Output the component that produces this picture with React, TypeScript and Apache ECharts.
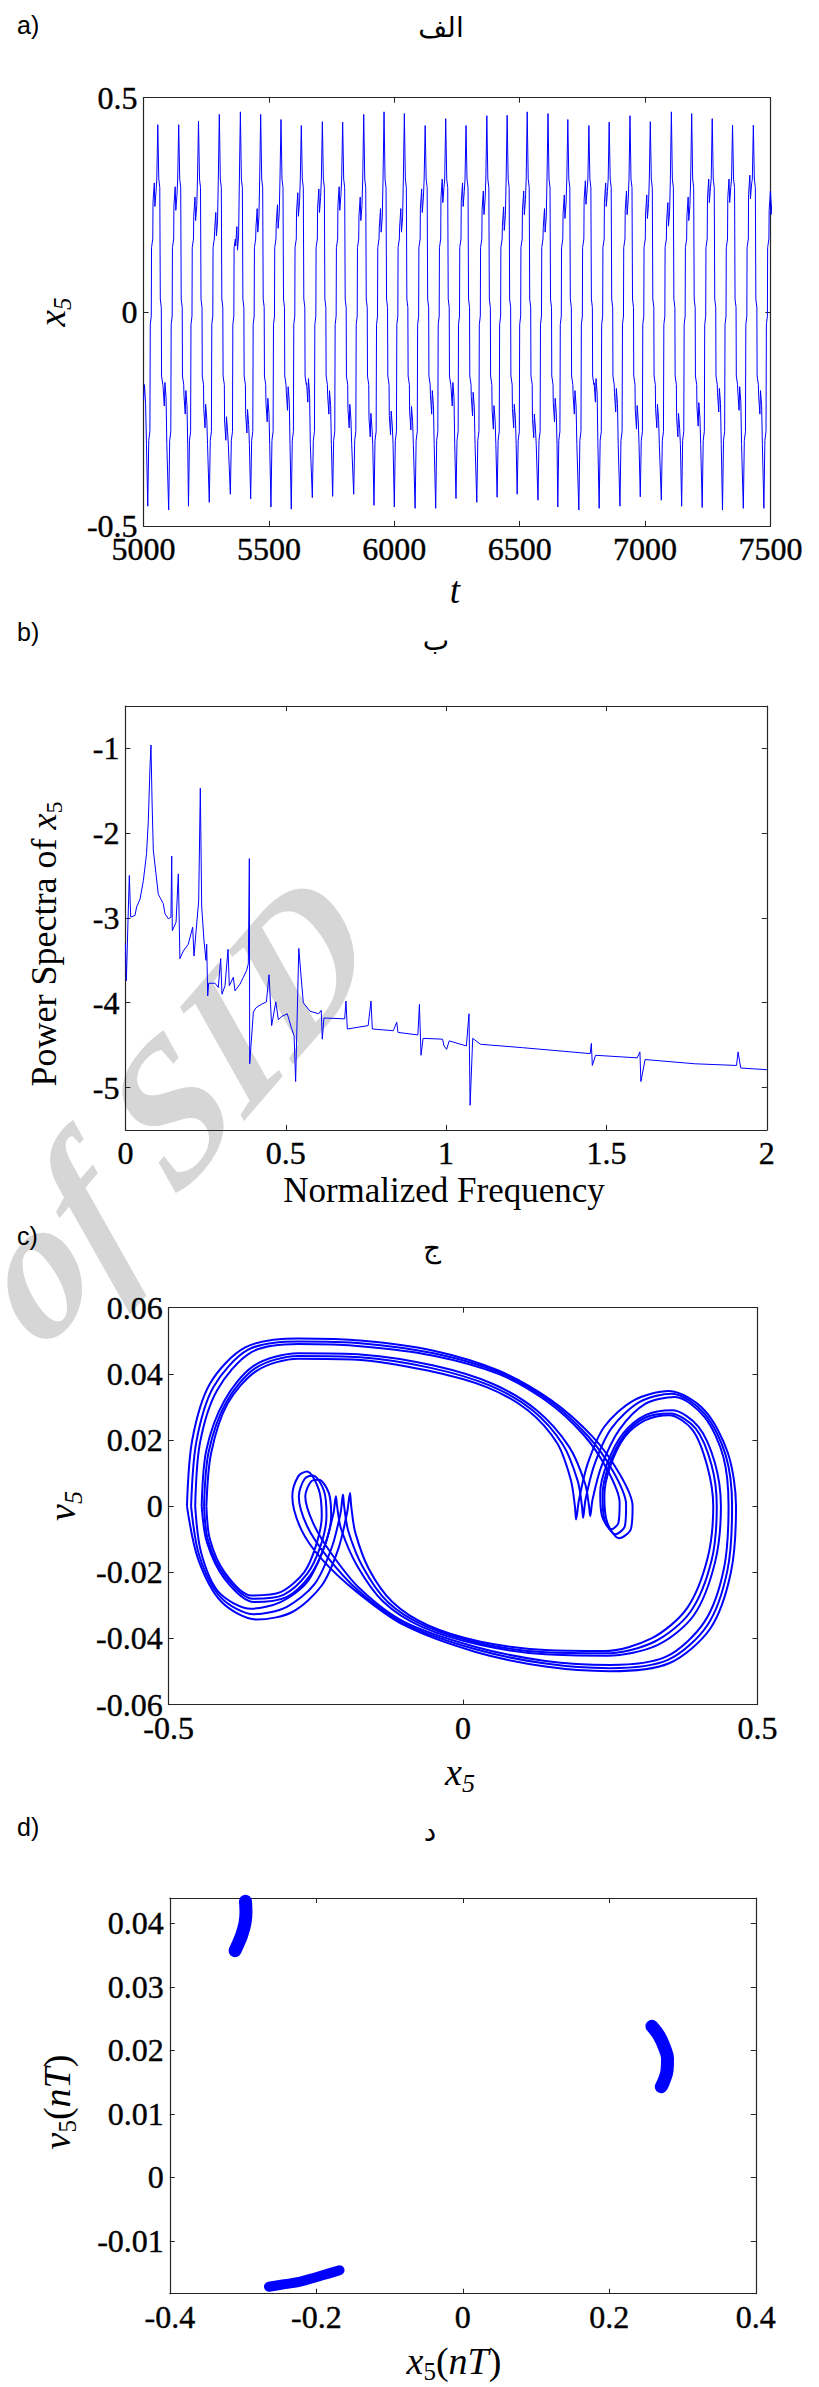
import React, { useEffect, useRef } from "react";
import * as echarts from "echarts";

const SERIF = '"Liberation Serif", serif';
const BLUE = "#0000ff";
const AX_COLOR = "#262626";

// ---------------- Panel a: x5(t) time series (per-cycle readings) ----------------
const peakTimes = [5058.6, 5142, 5221, 5304, 5388, 5469, 5550, 5631, 5715, 5796, 5880, 5961, 6042, 6125, 6207, 6288, 6371, 6452, 6532, 6615, 6694, 6778, 6859, 6942, 7023, 7107, 7188, 7270, 7351, 7434, 7516];
const peakValues = [0.437, 0.437, 0.445, 0.461, 0.467, 0.461, 0.449, 0.435, 0.444, 0.443, 0.461, 0.467, 0.463, 0.435, 0.451, 0.435, 0.458, 0.459, 0.467, 0.463, 0.449, 0.435, 0.443, 0.458, 0.444, 0.467, 0.463, 0.451, 0.436, 0.436, 0.44];
const troughValues = [-0.454, -0.463, -0.454, -0.445, -0.426, -0.437, -0.456, -0.461, -0.434, -0.431, -0.426, -0.452, -0.456, -0.459, -0.459, -0.436, -0.445, -0.433, -0.426, -0.44, -0.456, -0.463, -0.459, -0.454, -0.432, -0.44, -0.454, -0.457, -0.463, -0.459, -0.459];
const upperLevels = [0.276, 0.267, 0.243, 0.207, 0.174, 0.216, 0.225, 0.253, 0.262, 0.267, 0.243, 0.216, 0.216, 0.262, 0.285, 0.276, 0.257, 0.22, 0.257, 0.216, 0.248, 0.281, 0.276, 0.257, 0.248, 0.23, 0.243, 0.285, 0.285, 0.294, 0.257];
const lowerLevels = [-0.195, -0.214, -0.246, -0.275, -0.258, -0.232, -0.205, -0.186, -0.214, -0.246, -0.267, -0.262, -0.251, -0.214, -0.195, -0.218, -0.249, -0.246, -0.269, -0.232, -0.214, -0.186, -0.209, -0.249, -0.246, -0.267, -0.242, -0.209, -0.205, -0.214, -0.21];
const leadIn: [number, number][] = [[5000, -0.205], [5003.5, -0.17], [5008, -0.215], [5011.5, -0.31]];
// staircase shape of one oscillation: [time offset from peak, reference level, offset]
const riseShape: [number, string, number][] = [
  [-42, "Q", 0], [-38, "0", -0.3], [-33.5, "0", -0.28], [-32, "0", -0.03], [-28, "0", -0.01],
  [-27, "0", 0.15], [-22, "0", 0.17], [-21, "U", -0.02], [-16, "U", 0.025], [-13.5, "U", -0.03],
  [-9, "U", 0.005], [-6, "0", 0.31], [-2, "P", 0],
];
const fallShape: [number, string, number][] = [
  [2, "0", 0.31], [6, "0", 0.29], [8, "0", 0.03], [12, "0", 0.01], [13, "0", -0.15], [18, "0", -0.17],
  [19, "L", 0.02], [24, "L", -0.025], [26.5, "L", 0.03], [31, "L", -0.005], [34, "0", -0.31],
];

// ---------------- Panel b: power spectrum ----------------
const specFreq = [0, 0.003, 0.008, 0.0122, 0.0165, 0.03, 0.035, 0.0455, 0.056, 0.066, 0.0715, 0.0767, 0.0798, 0.083, 0.087, 0.0954, 0.1026, 0.108, 0.118, 0.1235, 0.134, 0.142, 0.1444, 0.1463, 0.158, 0.165, 0.17, 0.1806, 0.196, 0.2098, 0.2139, 0.2223, 0.2285, 0.2336, 0.2379, 0.2451, 0.2513, 0.2535, 0.2566, 0.2597, 0.2794, 0.2897, 0.2971, 0.3012, 0.3106, 0.32, 0.324, 0.3365, 0.3418, 0.3573, 0.3677, 0.378, 0.3833, 0.3865, 0.3876, 0.399, 0.407, 0.4234, 0.4397, 0.4478, 0.456, 0.469, 0.477, 0.4884, 0.5048, 0.518, 0.526, 0.5308, 0.5407, 0.5497, 0.5548, 0.5756, 0.6025, 0.6106, 0.614, 0.619, 0.6838, 0.6878, 0.692, 0.757, 0.7658, 0.77, 0.8354, 0.846, 0.85, 0.912, 0.9168, 0.9218, 0.9283, 0.989, 0.9935, 1.0016, 1.0097, 1.0633, 1.0714, 1.0749, 1.083, 1.1073, 1.2377, 1.4494, 1.4528, 1.456, 1.466, 1.5959, 1.6043, 1.6074, 1.6205, 1.7752, 1.9055, 1.9105, 1.9186, 2.0];
const specPower = [-3.3, -3.74, -3.05, -2.5, -2.99, -2.97, -2.87, -2.78, -2.56, -2.24, -1.85, -1.22, -0.96, -1.61, -2.2, -2.48, -2.72, -2.76, -2.83, -2.95, -3.01, -2.99, -2.27, -3.15, -3.05, -2.48, -3.48, -3.39, -3.31, -3.11, -3.45, -3.07, -2.8, -1.47, -2.87, -3.27, -3.5, -3.31, -3.92, -3.77, -3.77, -3.82, -3.48, -3.9, -3.8, -3.37, -3.8, -3.7, -3.86, -3.78, -3.7, -3.62, -3.54, -2.3, -4.72, -4.11, -4.06, -4.02, -3.99, -3.67, -4.27, -3.99, -4.2, -4.16, -4.13, -4.3, -4.39, -4.93, -3.36, -3.78, -4.0, -4.1, -4.13, -4.09, -4.43, -4.18, -4.19, -3.98, -4.31, -4.27, -3.98, -4.31, -4.33, -4.23, -4.35, -4.38, -4.02, -4.62, -4.42, -4.43, -4.51, -4.55, -4.45, -4.51, -4.13, -5.21, -4.42, -4.49, -4.53, -4.6, -4.48, -4.74, -4.62, -4.65, -4.58, -4.93, -4.67, -4.72, -4.74, -4.58, -4.77, -4.79];

// ---------------- Panel c: phase portrait (x5, v5) ----------------
const orbitA1: [number, number][] = [[-0.436, 0], [-0.428, 0.016], [-0.4, 0.031], [-0.35, 0.041], [-0.28, 0.0446], [-0.18, 0.0443], [-0.06, 0.041], [0.04, 0.036], [0.11, 0.029], [0.16, 0.019], [0.183, 0.008], [0.19, 0], [0.192, -0.004], [0.197, 0.002], [0.212, 0.013], [0.24, 0.024], [0.29, 0.032], [0.35, 0.0348], [0.41, 0.029], [0.45, 0.016], [0.4637, 0], [0.455, -0.02], [0.42, -0.037], [0.35, -0.0475], [0.25, -0.0499], [0.14, -0.0485], [0.02, -0.044], [-0.1, -0.036], [-0.18, -0.026], [-0.24, -0.016], [-0.275, -0.007], [-0.29, 0.003], [-0.28, 0.009], [-0.265, 0.0105], [-0.245, 0.005], [-0.24, -0.003], [-0.25, -0.012], [-0.27, -0.02], [-0.31, -0.026], [-0.36, -0.027], [-0.405, -0.02], [-0.43, -0.01], [-0.436, 0]];
const orbitB1: [number, number][] = [[-0.469, 0], [-0.46, 0.02], [-0.43, 0.037], [-0.37, 0.048], [-0.28, 0.0507], [-0.17, 0.05], [-0.05, 0.047], [0.06, 0.041], [0.15, 0.032], [0.22, 0.021], [0.265, 0.01], [0.288, 0], [0.285, -0.007], [0.265, -0.0097], [0.245, -0.005], [0.24, 0.003], [0.25, 0.012], [0.275, 0.021], [0.31, 0.026], [0.35, 0.0275], [0.39, 0.023], [0.415, 0.012], [0.425, 0], [0.415, -0.016], [0.38, -0.031], [0.32, -0.04], [0.24, -0.0438], [0.14, -0.0435], [0.03, -0.041], [-0.06, -0.036], [-0.12, -0.029], [-0.16, -0.019], [-0.183, -0.008], [-0.19, 0], [-0.192, 0.004], [-0.197, -0.002], [-0.212, -0.013], [-0.24, -0.024], [-0.29, -0.032], [-0.35, -0.0343], [-0.41, -0.029], [-0.45, -0.016], [-0.469, 0]];
const orbitA2: [number, number][] = [[-0.444, 0], [-0.436, 0.017], [-0.405, 0.032], [-0.355, 0.0425], [-0.28, 0.0462], [-0.17, 0.0458], [-0.05, 0.0425], [0.05, 0.037], [0.125, 0.029], [0.18, 0.018], [0.207, 0.007], [0.214, 0], [0.216, -0.003], [0.22, 0.002], [0.235, 0.012], [0.265, 0.023], [0.31, 0.031], [0.36, 0.033], [0.41, 0.027], [0.442, 0.015], [0.451, 0], [0.443, -0.019], [0.41, -0.035], [0.345, -0.0455], [0.25, -0.048], [0.14, -0.0468], [0.02, -0.0425], [-0.1, -0.035], [-0.175, -0.025], [-0.225, -0.014], [-0.255, -0.005], [-0.268, 0.003], [-0.258, 0.0075], [-0.245, 0.008], [-0.228, 0.004], [-0.224, -0.003], [-0.235, -0.012], [-0.26, -0.021], [-0.3, -0.0275], [-0.355, -0.029], [-0.405, -0.022], [-0.435, -0.011], [-0.444, 0]];
const orbitB2: [number, number][] = [[-0.455, 0], [-0.447, 0.019], [-0.418, 0.035], [-0.36, 0.0465], [-0.28, 0.049], [-0.17, 0.0483], [-0.05, 0.0455], [0.06, 0.04], [0.14, 0.032], [0.205, 0.0215], [0.245, 0.011], [0.266, 0.001], [0.264, -0.005], [0.252, -0.007], [0.236, -0.003], [0.233, 0.004], [0.245, 0.013], [0.272, 0.022], [0.31, 0.0275], [0.355, 0.029], [0.4, 0.024], [0.428, 0.013], [0.438, 0], [0.428, -0.017], [0.392, -0.033], [0.33, -0.042], [0.245, -0.0452], [0.14, -0.0448], [0.03, -0.042], [-0.07, -0.0365], [-0.135, -0.029], [-0.18, -0.018], [-0.207, -0.007], [-0.214, 0], [-0.216, 0.003], [-0.22, -0.002], [-0.235, -0.012], [-0.265, -0.023], [-0.31, -0.029], [-0.36, -0.031], [-0.415, -0.026], [-0.445, -0.014], [-0.455, 0]];
const orbitA3: [number, number][] = [[-0.44, 0], [-0.432, 0.0165], [-0.402, 0.0315], [-0.352, 0.0418], [-0.28, 0.0454], [-0.175, 0.045], [-0.055, 0.0418], [0.045, 0.0365], [0.118, 0.029], [0.17, 0.0185], [0.195, 0.0075], [0.202, 0], [0.204, -0.0035], [0.208, 0.002], [0.223, 0.0125], [0.252, 0.0235], [0.3, 0.0315], [0.355, 0.034], [0.41, 0.028], [0.446, 0.0155], [0.457, 0], [0.449, -0.0195], [0.415, -0.036], [0.348, -0.0465], [0.25, -0.049], [0.14, -0.0476], [0.02, -0.0432], [-0.1, -0.0355], [-0.178, -0.0255], [-0.232, -0.015], [-0.265, -0.006], [-0.279, 0.003], [-0.269, 0.0083], [-0.255, 0.0093], [-0.236, 0.0045], [-0.232, -0.003], [-0.242, -0.012], [-0.265, -0.0205], [-0.305, -0.0268], [-0.357, -0.028], [-0.405, -0.021], [-0.433, -0.0105], [-0.44, 0]];
const orbitB3: [number, number][] = [[-0.462, 0], [-0.453, 0.0195], [-0.424, 0.036], [-0.365, 0.0473], [-0.28, 0.0498], [-0.17, 0.0492], [-0.05, 0.0462], [0.06, 0.0405], [0.145, 0.032], [0.212, 0.0212], [0.255, 0.0105], [0.277, 0.0005], [0.275, -0.006], [0.259, -0.0085], [0.24, -0.004], [0.237, 0.0035], [0.248, 0.0125], [0.274, 0.0215], [0.31, 0.0268], [0.352, 0.028], [0.395, 0.0235], [0.422, 0.0125], [0.431, 0], [0.422, -0.0165], [0.386, -0.032], [0.325, -0.041], [0.243, -0.0445], [0.14, -0.0442], [0.03, -0.0415], [-0.065, -0.0362], [-0.128, -0.029], [-0.17, -0.0185], [-0.195, -0.0075], [-0.202, 0], [-0.204, 0.0035], [-0.208, -0.002], [-0.223, -0.0125], [-0.252, -0.0235], [-0.3, -0.0305], [-0.355, -0.0327], [-0.412, -0.0275], [-0.448, -0.015], [-0.462, 0]];

// ---------------- Panel d: Poincare section ----------------
const poincareArc1: [number, number][] = [[-0.311, 0.0357], [-0.3074, 0.0366], [-0.3017, 0.0382], [-0.2974, 0.04], [-0.296, 0.0418], [-0.2967, 0.0435]];
const poincareArc2: [number, number][] = [[0.2582, 0.0238], [0.2681, 0.0223], [0.2752, 0.0205], [0.2795, 0.0187], [0.2788, 0.0168], [0.2739, 0.015], [0.271, 0.0143]];
const poincareArc3: [number, number][] = [[-0.2646, -0.0172], [-0.2431, -0.0168], [-0.2218, -0.0164], [-0.2004, -0.0157], [-0.1825, -0.0151], [-0.1683, -0.0146]];

// tick values
const ticksB = [-5, -4, -3, -2, -1];
const ticksD = [-0.01, 0, 0.01, 0.02, 0.03, 0.04];

function buildX5(): [number, number][] {
  const out: [number, number][] = leadIn.slice();
  for (let i = 0; i < peakTimes.length; i++) {
    const p = peakTimes[i];
    const lv: Record<string, number> = { Q: troughValues[i], U: upperLevels[i], P: peakValues[i], L: lowerLevels[i], "0": 0 };
    for (const [dt, ref, d] of riseShape) out.push([p + dt, lv[ref] + d]);
    for (const [dt, ref, d] of fallShape) out.push([p + dt, lv[ref] + d]);
  }
  return out;
}

let measureCtx: CanvasRenderingContext2D | null = null;
function textWidth(t: string, font: string) {
  if (!measureCtx) measureCtx = document.createElement("canvas").getContext("2d");
  if (!measureCtx) return t.length * 12;
  measureCtx.font = font;
  return measureCtx.measureText(t).width;
}
type Part = { t: string; font: string; dy?: number };
function mathLabel(parts: Part[], x: number, y: number, rotation = 0): any {
  const widths = parts.map((p) => textWidth(p.t, p.font));
  const total = widths.reduce((a, b) => a + b, 0);
  let cx = -total / 2;
  const children = parts.map((p, i) => {
    const el = {
      type: "text", x: cx, y: p.dy || 0,
      style: { text: p.t, font: p.font, fill: "#000", align: "left", verticalAlign: "middle", textAlign: "left", textVerticalAlign: "middle" },
    };
    cx += widths[i];
    return el;
  });
  return { type: "group", x, y, rotation, children };
}
function plainText(t: string, font: string, x: number, y: number, align = "center"): any {
  return { type: "text", x, y, style: { text: t, font, fill: "#000", align, verticalAlign: "middle", textAlign: align, textVerticalAlign: "middle" } };
}

type AxisSpec = { min: number; max: number; interval?: number; ticks?: number[] };
function mkAxis(kind: "x" | "y", gridIndex: number, position: string, spec: AxisSpec, showLabels: boolean): any {
  const ax: any = {
    type: "value", gridIndex, position, min: spec.min, max: spec.max, scale: true,
    axisLine: { show: true, onZero: false, lineStyle: { color: AX_COLOR, width: 1.2 } },
    axisTick: { show: true, inside: true, length: 5, lineStyle: { color: AX_COLOR, width: 1 } },
    splitLine: { show: false },
    axisLabel: {
      show: showLabels, fontFamily: '"Liberation Serif", serif', fontSize: 32, color: "#000",
      textBorderColor: "#000", textBorderWidth: 0.4,
      margin: kind === "x" ? 7 : 6, formatter: (v: number) => String(Math.round(v * 100000) / 100000),
    },
  };
  if (spec.interval != null) ax.interval = spec.interval;
  if (spec.ticks) {
    ax.axisTick.customValues = spec.ticks;
    ax.axisLabel.customValues = spec.ticks;
  }
  return ax;
}

function buildOption(): any {
  const grids = [
    { left: 143.6, top: 97.7, width: 626.8, height: 428.2 },
    { left: 125.4, top: 706, width: 641.4, height: 423.9 },
    { left: 168.7, top: 1307.7, width: 588.7, height: 396.9 },
    { left: 169.8, top: 1898, width: 586, height: 395.7 },
  ].map((g) => ({ ...g, containLabel: false, outerBoundsMode: "none", show: false }));
  const xs: AxisSpec[] = [
    { min: 5000, max: 7500, interval: 500 },
    { min: 0, max: 2, interval: 0.5 },
    { min: -0.5, max: 0.5, interval: 0.5 },
    { min: -0.4, max: 0.4, interval: 0.2 },
  ];
  const ys: AxisSpec[] = [
    { min: -0.5, max: 0.5, interval: 0.5 },
    { min: -5.5, max: -0.5, ticks: ticksB },
    { min: -0.06, max: 0.06, interval: 0.02 },
    { min: -0.0183, max: 0.044, ticks: ticksD },
  ];
  const xAxis: any[] = [];
  const yAxis: any[] = [];
  for (let g = 0; g < 4; g++) {
    xAxis.push(mkAxis("x", g, "bottom", xs[g], true));
    xAxis.push(mkAxis("x", g, "top", xs[g], false));
    yAxis.push(mkAxis("y", g, "left", ys[g], true));
    yAxis.push(mkAxis("y", g, "right", ys[g], false));
  }
  const lineBase = { type: "line", showSymbol: false, symbol: "none", clip: true, z: 5, animation: false };
  const series: any[] = [
    { ...lineBase, xAxisIndex: 0, yAxisIndex: 0, data: buildX5(), lineStyle: { color: BLUE, width: 1 } },
    { ...lineBase, xAxisIndex: 2, yAxisIndex: 2, data: specFreq.map((f, i) => [f, specPower[i]]), lineStyle: { color: BLUE, width: 1 } },
    ...[orbitA1, orbitB1, orbitA2, orbitB2, orbitA3, orbitB3].map((o) => ({
      ...lineBase, xAxisIndex: 4, yAxisIndex: 4, data: o, smooth: 0.3, lineStyle: { color: BLUE, width: 2 },
    })),
    ...[
      [poincareArc1, 13],
      [poincareArc2, 13],
      [poincareArc3, 10],
    ].map(([arc, w]: any) => ({
      ...lineBase, xAxisIndex: 6, yAxisIndex: 6, data: arc, smooth: 0.4,
      lineStyle: { color: BLUE, width: w, cap: "round", join: "round" },
    })),
  ];

  const labelFont = '25px "Liberation Sans Narrow", "Liberation Sans", Arial, sans-serif';
  const arFont = '28px "DejaVu Sans", sans-serif';
  const it = (s: number) => `italic ${s}px ${SERIF}`;
  const rm = (s: number) => `${s}px ${SERIF}`;
  const graphic: any[] = [
    {
      // faint "of SID" watermark (vertically stretched like the scanned page)
      type: "group", x: 45, y: 1285, scaleY: 1.2, z: -10, silent: true,
      children: [
        {
          type: "text", x: -42.7, y: 16.3, rotation: 0.768, z: -10, silent: true,
          style: { text: "of SID", font: `italic bold 172px ${SERIF}`, fill: "#d6d6d6", align: "left", verticalAlign: "middle", textAlign: "left", textVerticalAlign: "middle" },
        },
      ],
    },
    plainText("a)", labelFont, 17, 24.5, "left"),
    plainText("b)", labelFont, 17, 632, "left"),
    plainText("c)", labelFont, 17, 1236, "left"),
    plainText("d)", labelFont, 17, 1827, "left"),
    plainText("الف", arFont, 441, 27.5),
    plainText("ب", arFont, 436, 640),
    plainText("ج", arFont, 432, 1247),
    plainText("د", arFont, 430, 1831),
    // panel a names
    mathLabel([{ t: "x", font: it(37) }, { t: "5", font: it(25), dy: 10 }], 52, 312, Math.PI / 2),
    mathLabel([{ t: "t", font: it(37) }], 455, 590),
    // panel b names
    mathLabel([{ t: "Power Spectra of ", font: rm(36) }, { t: "x", font: it(36) }, { t: "5", font: rm(24), dy: 10 }], 44, 944, Math.PI / 2),
    mathLabel([{ t: "Normalized Frequency", font: rm(35) }], 444, 1190),
    // panel c names
    mathLabel([{ t: "x", font: it(38) }, { t: "5", font: it(26), dy: 11 }], 460, 1772),
    mathLabel([{ t: "v", font: it(38) }, { t: "5", font: it(26), dy: 11 }], 62, 1506, Math.PI / 2),
    // panel d names
    mathLabel([{ t: "x", font: it(38) }, { t: "5", font: rm(25), dy: 10 }, { t: "(", font: rm(38) }, { t: "n", font: it(38) }, { t: "T", font: it(38) }, { t: ")", font: rm(38) }], 454, 2361),
    mathLabel([{ t: "v", font: it(38) }, { t: "5", font: rm(25), dy: 10 }, { t: "(", font: rm(38) }, { t: "n", font: it(38) }, { t: "T", font: it(38) }, { t: ")", font: rm(38) }], 57, 2102, Math.PI / 2),
  ];

  return {
    animation: false, backgroundColor: "#fff",
    textStyle: { fontFamily: '"Liberation Serif", serif' },
    grid: grids, xAxis, yAxis, series, graphic: { elements: graphic },
  };
}

export default function App() {
  const ref = useRef<HTMLDivElement>(null);
  useEffect(() => {
    if (!ref.current) return;
    const chart = echarts.init(ref.current, undefined, { renderer: "svg" });
    chart.setOption(buildOption());
    return () => chart.dispose();
  }, []);
  return <div ref={ref} style={{ position: "absolute", left: 0, top: 0, width: 819, height: 2387, background: "#fff" }} />;
}
